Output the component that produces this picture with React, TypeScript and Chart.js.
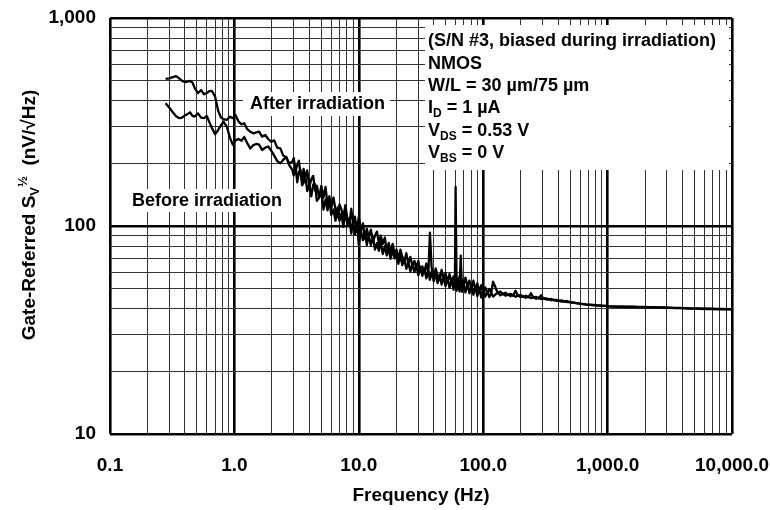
import React, { useEffect, useRef } from 'react';
import { Chart, registerables } from 'chart.js';

Chart.register(...registerables);

const FONT = '"Liberation Sans", Arial, Helvetica, sans-serif';

// ---- Data (frequency in Hz, gate-referred noise in nV/sqrt(Hz)) ----
const freqLow = [0.28, 0.30, 0.32, 0.34, 0.36, 0.38, 0.40, 0.42, 0.44, 0.46,
  0.48, 0.51, 0.54, 0.57, 0.60, 0.63, 0.66, 0.70, 0.74, 0.78,
  0.82, 0.87, 0.92, 0.97, 1.02, 1.08, 1.14, 1.20, 1.27, 1.34,
  1.42, 1.50, 1.58, 1.67, 1.77, 1.87, 1.98, 2.09, 2.21, 2.34,
  2.47, 2.61, 2.76, 2.92];
const afterLow = [510, 513, 520, 526, 512, 498, 492, 494, 498, 490,
  460, 436, 450, 430, 436, 445, 446, 418, 358, 332,
  326, 324, 335, 330, 342, 318, 308, 312, 292, 284,
  279, 282, 284, 269, 274, 262, 254, 258, 238, 236,
  218, 214, 200, 204];
const beforeLow = [389, 370, 352, 337, 330, 332, 340, 345, 352, 338,
  336, 348, 332, 330, 338, 315, 296, 276, 290, 305,
  317, 300, 266, 246, 258, 262, 257, 268, 250, 236,
  245, 248, 246, 232, 238, 241, 230, 218, 205, 200,
  208, 215, 196, 186];

const freqMid = [3.0, 3.1, 3.2, 3.3, 3.4, 3.5, 3.6, 3.7, 3.85, 4.0,
  4.15, 4.3, 4.45, 4.6, 4.8, 5.0, 5.2, 5.4, 5.6, 5.8,
  6.0, 6.25, 6.5, 6.75, 7.0, 7.25, 7.5, 7.8, 8.1, 8.4,
  8.7, 9.0, 9.3, 9.65, 10.0, 10.4, 10.8, 11.2, 11.6, 12.0,
  12.5, 13.0, 13.5, 14.0, 14.5, 15.0, 15.6, 16.2, 16.8, 17.4,
  18.0, 18.7, 19.4, 20.1, 20.8, 21.6, 22.4, 23.2, 24.1, 25.0,
  26.0, 27.0, 28.0, 29.0, 30.1, 31.2, 32.4, 33.6, 34.9, 36.2,
  37.3, 38.5, 40.0, 41.5, 43.0, 44.6, 46.3, 48.0, 49.8, 51.7,
  53.6, 55.6, 57.7, 59.2, 60.0, 61.0, 62.7, 64.5, 66.0, 67.5,
  69.5, 72.0, 74.7, 77.5, 80.4, 83.4, 86.5, 89.7, 93.0, 96.5,
  100, 104, 108, 112, 116, 120];
const afterMid = [212, 183, 197, 206, 177, 165, 188, 171, 185, 154,
  168, 174, 148, 156, 137, 156, 137, 154, 127, 139,
  121, 137, 120, 110, 127, 120, 110, 126, 108, 102,
  121, 102, 111, 94, 111, 95, 103, 87, 97, 88,
  96, 84, 90, 94, 82, 90, 82, 88, 75, 83,
  75, 82, 74, 77, 69, 77, 71, 67, 74, 66,
  71, 64, 68, 63, 68, 60, 64, 60, 66, 58.5,
  93, 63, 57, 62.5, 57.8, 55, 61.5, 55.8, 59.3, 53.7,
  58.8, 53.6, 57.2, 52.3, 154, 57.2, 52, 57.2, 51.8, 55.6,
  51.3, 56.5, 51.4, 54.6, 49.9, 54.6, 49.4, 53, 48, 52,
  47.5, 50.7, 47.5, 49.8, 47.6, 54];
const beforeMid = [175, 195, 162, 182, 186, 157, 161, 178, 147, 159,
  139, 158, 159, 132, 137, 148, 120, 134, 119, 134,
  113, 120, 106, 123, 106, 115, 99, 116, 102, 109,
  92, 106, 91, 104, 81, 95, 85.5, 94, 81, 90,
  81, 88.5, 77, 82.6, 76, 83.7, 73.3, 80, 72.2, 78.8,
  69.6, 76.7, 69.8, 73.8, 65.8, 71.9, 64.8, 69.8, 62.2, 67.1,
  60.3, 66.2, 60, 64.5, 58, 63.5, 57.6, 62.5, 56, 60.8,
  55.1, 60.4, 54.2, 59.3, 53.2, 58.3, 52.3, 57.2, 51.3, 56.2,
  50.4, 55.1, 49.4, 54.4, 66, 48.8, 53.8, 48.5, 72, 48.3,
  53.1, 47.9, 52.7, 47.5, 52.1, 46.7, 51.2, 46, 50.4, 45.3,
  49.3, 45.8, 48.4, 45.5, 47.7, 45.8];

const freqHigh = [125, 131, 137, 144, 151, 158, 166, 174, 182, 191,
  200, 210, 220, 231, 242, 254, 266, 279, 292, 306,
  321, 337, 353, 370, 388, 407, 427, 448, 470, 493,
  517, 542, 568, 596, 625, 655, 687, 720, 755, 792,
  830, 870, 912, 956, 1000, 1100, 1200, 1320, 1450, 1600,
  1760, 1940, 2130, 2350, 2590, 2850, 3140, 3460, 3810, 4200,
  4620, 5090, 5600, 6170, 6790, 7480, 8230, 9060, 10000];
const afterHigh = [51, 47.5, 48.5, 46.8, 47.8, 46.5, 47.2, 46.2, 48.8, 46,
  46.6, 45.6, 46.2, 45.4, 47.5, 45.2, 45.6, 44.8, 46.5, 44.6,
  44.9, 44.2, 44.6, 43.9, 44.2, 43.6, 43.9, 43.3, 43.6, 43.1,
  42.9, 42.7, 42.6, 42.3, 42.2, 42.0, 41.9, 41.8, 41.7, 41.6,
  41.5, 41.4, 41.3, 41.3, 41.2, 41.1, 41.0, 41.0, 40.9, 40.9,
  40.8, 40.8, 40.7, 40.7, 40.6, 40.6, 40.5, 40.4, 40.4, 40.3,
  40.2, 40.2, 40.1, 40.0, 40.0, 39.9, 39.9, 39.8, 39.8];
const beforeHigh = [46.8, 48, 46.4, 47.5, 46.2, 47, 45.9, 46.8, 45.7, 46.5,
  45.5, 46.1, 45.2, 45.8, 45.0, 45.6, 44.7, 45.3, 44.5, 45.0,
  44.3, 44.6, 43.9, 44.2, 43.6, 43.8, 43.3, 43.5, 43.1, 43.2,
  42.8, 42.8, 42.5, 42.4, 42.1, 42.1, 41.8, 41.9, 41.6, 41.7,
  41.4, 41.5, 41.3, 41.3, 41.1, 41.0, 40.9, 40.9, 40.8, 40.8,
  40.7, 40.7, 40.6, 40.6, 40.5, 40.5, 40.4, 40.3, 40.3, 40.2,
  40.1, 40.1, 40.0, 39.9, 39.9, 39.8, 39.8, 39.7, 39.7];

// ---- Axes ----
const xDecades = [0.1, 1, 10, 100, 1000, 10000];
const xDecadeLabels = ['0.1', '1.0', '10.0', '100.0', '1,000.0', '10,000.0'];
const yDecades = [10, 100, 1000];
const yDecadeLabels = ['10', '100', '1,000'];
const minorSteps = [2, 3, 4, 5, 6, 7, 8, 9];

const seriesNames = ['After irradiation', 'Before irradiation'];
const infoLines = [
  [{ t: '(S/N #3, biased during irradiation)' }],
  [{ t: 'NMOS' }],
  [{ t: 'W/L = 30 µm/75 µm' }],
  [{ t: 'I' }, { t: 'D', sub: true }, { t: ' = 1 µA' }],
  [{ t: 'V' }, { t: 'DS', sub: true }, { t: ' = 0.53 V' }],
  [{ t: 'V' }, { t: 'BS', sub: true }, { t: ' = 0 V' }],
];

function logTicks(decades: number[]) {
  const out: number[] = [];
  decades.forEach((d, i) => {
    out.push(d);
    if (i < decades.length - 1) minorSteps.forEach((m) => out.push(+(d * m).toPrecision(6)));
  });
  return out;
}
function isDecade(v: number) {
  const l = Math.log10(v);
  return Math.abs(l - Math.round(l)) < 1e-9;
}
function labelFor(v: number, decs: number[], labels: string[]) {
  const i = decs.findIndex((d) => Math.abs(d - v) / d < 1e-9);
  return i >= 0 ? labels[i] : '';
}
function toPoints(f: number[], v: number[]) {
  return f.map((x, i) => ({ x, y: v[i] }));
}

type Part = { t: string; sub?: boolean; sup?: boolean };

function drawRich(ctx: CanvasRenderingContext2D, parts: Part[], x: number, y: number, size: number, center = false) {
  const fontFor = (p: Part) => `bold ${p.sub || p.sup ? Math.round(size * 0.68) : size}px ${FONT}`;
  let total = 0;
  parts.forEach((p) => { ctx.font = fontFor(p); total += ctx.measureText(p.t).width; });
  let cx = center ? x - total / 2 : x;
  ctx.textBaseline = 'alphabetic';
  ctx.textAlign = 'left';
  const base = y + size * 0.36;
  parts.forEach((p) => {
    ctx.font = fontFor(p);
    const dy = p.sub ? size * 0.22 : p.sup ? -size * 0.42 : 0;
    ctx.fillText(p.t, cx, base + dy);
    cx += ctx.measureText(p.t).width;
  });
}

const textPlugin = {
  id: 'textBoxes',
  beforeDatasetsDraw(chart: any) {
    const ctx: CanvasRenderingContext2D = chart.ctx;
    ctx.save();
    ctx.fillStyle = '#fff';
    ctx.fillRect(425, 25, 304, 145);
    ctx.fillRect(243, 92, 147, 24);
    ctx.fillRect(127, 189, 158, 23);
    ctx.fillStyle = '#000';
    infoLines.forEach((line, i) => drawRich(ctx, line as Part[], 428, 40 + i * 22.3, 18));
    drawRich(ctx, [{ t: seriesNames[0] }], 250, 103, 18);
    drawRich(ctx, [{ t: seriesNames[1] }], 132, 200, 18);
    ctx.restore();
  },
  afterDraw(chart: any) {
    const ctx: CanvasRenderingContext2D = chart.ctx;
    ctx.save();
    ctx.fillStyle = '#000';
    ctx.translate(28, 215);
    ctx.rotate(-Math.PI / 2);
    drawRich(ctx, [
      { t: 'Gate-Referred S' }, { t: 'V', sub: true }, { t: '½', sup: true }, { t: '  (nV/√Hz)' },
    ], 0, 0, 19, true);
    ctx.restore();
  },
};

export default function App() {
  const ref = useRef<HTMLCanvasElement | null>(null);
  useEffect(() => {
    if (!ref.current) return;
    const gridWidth = (c: any) => (c.tick && isDecade(c.tick.value) ? 2.6 : 1);
    const gridColor = (c: any) => (c.tick && isDecade(c.tick.value) ? '#000' : '#333');
    const lineStyle = { borderColor: '#000', borderWidth: 2.3, pointRadius: 0, tension: 0, borderJoinStyle: 'round' };
    const chart = new Chart(ref.current, {
      type: 'line',
      data: {
        datasets: [
          {
            label: seriesNames[0],
            data: toPoints([...freqLow, ...freqMid, ...freqHigh], [...afterLow, ...afterMid, ...afterHigh]),
            ...lineStyle,
          },
          {
            label: seriesNames[1],
            data: toPoints([...freqLow, ...freqMid, ...freqHigh], [...beforeLow, ...beforeMid, ...beforeHigh]),
            ...lineStyle,
          },
        ],
      },
      options: {
        animation: false,
        responsive: false,
        events: [],
        layout: { padding: { top: 18, right: 38, left: 0, bottom: 0 } },
        plugins: { legend: { display: false }, tooltip: { enabled: false } },
        scales: {
          x: {
            type: 'logarithmic',
            min: 0.1,
            max: 10000,
            afterBuildTicks: (s: any) => { s.ticks = logTicks(xDecades).map((v) => ({ value: v })); },
            afterFit: (s: any) => { s.height = 76; s.paddingLeft = 0; s.paddingRight = 0; },
            grid: { drawTicks: false, lineWidth: gridWidth, color: gridColor },
            border: { display: false },
            ticks: {
              autoSkip: false, maxRotation: 0, padding: 20, color: '#000',
              font: { family: FONT, size: 19, weight: 'bold' },
              callback: (v: any) => labelFor(Number(v), xDecades, xDecadeLabels),
            },
            title: {
              display: true, text: 'Frequency (Hz)', color: '#000',
              font: { family: FONT, size: 19, weight: 'bold' },
              padding: { top: 0, bottom: 3 },
            },
          },
          y: {
            type: 'logarithmic',
            min: 10,
            max: 1000,
            afterBuildTicks: (s: any) => { s.ticks = logTicks(yDecades).map((v) => ({ value: v })); },
            afterFit: (s: any) => { s.width = 110; s.paddingTop = 0; s.paddingBottom = 0; },
            grid: { drawTicks: false, lineWidth: gridWidth, color: gridColor },
            border: { display: false },
            ticks: {
              autoSkip: false, padding: 14, color: '#000',
              font: { family: FONT, size: 19, weight: 'bold' },
              callback: (v: any) => labelFor(Number(v), yDecades, yDecadeLabels),
            },
          },
        },
      },
      plugins: [textPlugin],
    } as any);
    return () => chart.destroy();
  }, []);
  return (
    <div style={{ position: 'fixed', left: 0, top: 0, width: 770, height: 510, background: '#fff' }}>
      <canvas ref={ref} width={770} height={510} style={{ display: 'block' }} />
    </div>
  );
}
